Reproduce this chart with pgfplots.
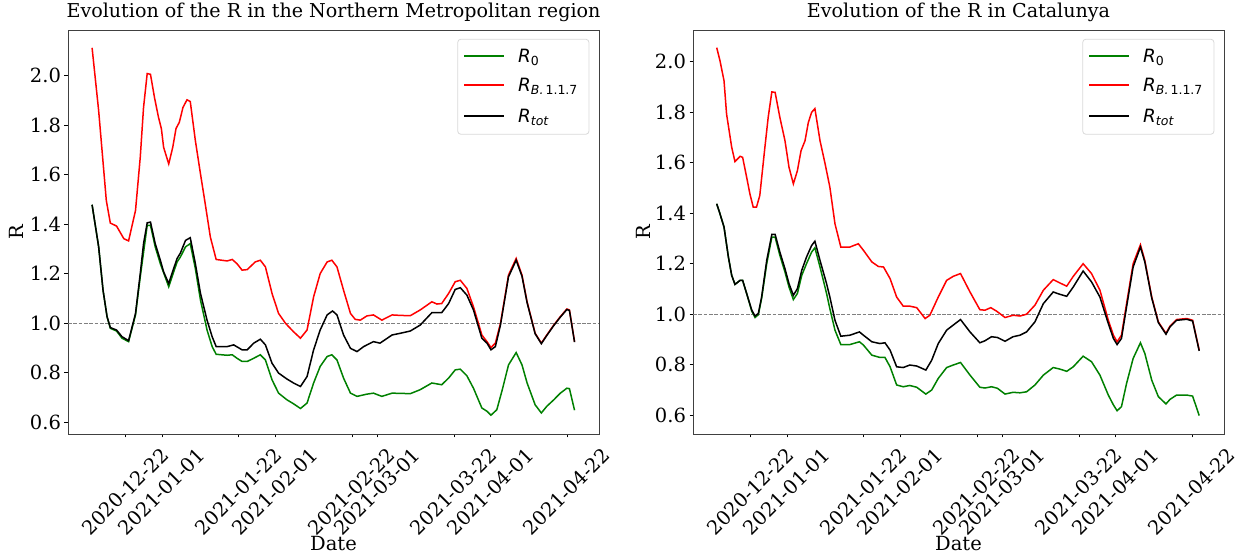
\documentclass[border=0pt]{standalone}
\usepackage{fontspec}
\setmainfont{DejaVu Serif}
\newfontfamily\dvs{DejaVu Sans}
\usepackage{pgfplots}
\pgfplotsset{compat=1.18}
\definecolor{mplgreen}{HTML}{008000}
\definecolor{mplred}{HTML}{FF0000}
\definecolor{legedge}{HTML}{D9D9D9}
\newcommand{\subf}[1]{\raisebox{-0.17em}{\fontsize{12.5}{14}\selectfont #1}}
\pgfplotsset{
  myaxis/.style={
    scale only axis, width=531pt, height=404pt,
    xmin=-15.8, xmax=129.7,
    xtick={0,10,31,41,62,69,90,100,121},
    xticklabels={2020-12-22,2021-01-01,2021-01-22,2021-02-01,2021-02-22,2021-03-01,2021-03-22,2021-04-01,2021-04-22},
    ytick={0.6,0.8,1.0,1.2,1.4,1.6,1.8,2.0},
    yticklabels={0.6,0.8,1.0,1.2,1.4,1.6,1.8,2.0},
    tick align=outside, xtick pos=left, ytick pos=left,
    major tick length=3.5pt,
    every tick/.style={black, line width=0.8pt},
    axis line style={black!75, line width=0.9pt},
    tick label style={font=\fontsize{19.5}{23}\selectfont},
    xticklabel style={xshift=34pt, yshift=-4pt, rotate=45, anchor=north east},
    title style={font=\fontsize{19.1}{23}\selectfont, at={(0.5,1)}, anchor=base, yshift=6pt},
    xlabel style={font=\fontsize{19.5}{23}\selectfont, at={(axis description cs:0.5,-0.27)}, anchor=center},
    ylabel style={font=\fontsize{19.5}{23}\selectfont, at={(axis description cs:-0.097,0.5)}, anchor=center, rotate=0},
    xlabel={Date}, ylabel={R},
  },
  gline/.style={mplgreen, line width=1.5pt},
  rline/.style={mplred, line width=1.5pt},
  kline/.style={black, line width=1.5pt},
  hline/.style={gray, line width=1pt, dash pattern=on 3.7pt off 1.6pt},
}
\newcommand{\mylegend}{%
  \draw[legedge, line width=0.8pt, fill=white, rounded corners=3pt] (axis description cs:0.734,0.977) rectangle (axis description cs:0.981,0.742);
  \draw[mplgreen, line width=1.6pt] (axis description cs:0.7458,0.93564) -- (axis description cs:0.8211,0.93564);
  \draw[mplred, line width=1.6pt] (axis description cs:0.7458,0.86386) -- (axis description cs:0.8211,0.86386);
  \draw[black, line width=1.6pt] (axis description cs:0.7458,0.78713) -- (axis description cs:0.8211,0.78713);
  \node[font=\dvs\fontsize{18.3}{21}\selectfont, anchor=base west, inner sep=0pt] at (axis description cs:0.8475,0.9190) {{\itshape R}\subf{0}};
  \node[font=\dvs\fontsize{18.3}{21}\selectfont, anchor=base west, inner sep=0pt] at (axis description cs:0.8475,0.8473) {{\itshape R}\subf{\itshape B.\,\upshape 1.1.7}};
  \node[font=\dvs\fontsize{18.3}{21}\selectfont, anchor=base west, inner sep=0pt] at (axis description cs:0.8475,0.7705) {{\itshape R}\subf{\itshape tot}};
}
\begin{document}
\begin{tikzpicture}
\useasboundingbox (0,0) rectangle (1239pt,553pt);
\begin{axis}[myaxis, at={(68pt,119pt)}, anchor=south west, ymin=0.553, ymax=2.185,
  title={Evolution of the R in the Northern Metropolitan region}]
\addplot[hline] coordinates {(-15.8,1) (129.7,1)};
\addplot[gline] coordinates {
(-9.2,1.479) (-7.4,1.309) (-6.2,1.134) (-5.1,1.027) (-4.2,0.980) (-2.5,0.969) (-1.0,0.940) (0.8,0.926)
(2.7,1.034) (4.0,1.188) (5.9,1.396) (6.8,1.396) (8.1,1.309) (9.5,1.241) (11.8,1.148) (13.0,1.201)
(14.1,1.248) (15.0,1.268) (16.4,1.309) (17.7,1.322) (19.1,1.221) (20.5,1.094) (22.3,0.973) (23.7,0.906)
(24.8,0.875) (27.8,0.871) (29.2,0.873) (30.5,0.859) (31.9,0.846) (33.3,0.846) (35.1,0.859) (36.9,0.873)
(38.3,0.852) (40.1,0.772) (41.9,0.718) (44.2,0.691) (46.0,0.675) (47.9,0.656) (49.7,0.678) (51.5,0.759)
(53.3,0.826) (55.2,0.866) (56.5,0.873) (57.9,0.852) (59.7,0.779) (61.6,0.718) (63.4,0.705) (66.1,0.714)
(67.9,0.718) (70.2,0.705) (73.0,0.718) (78.0,0.716) (80.7,0.732) (83.9,0.759) (86.6,0.752) (88.5,0.779)
(90.3,0.812) (91.7,0.815) (93.5,0.788) (95.3,0.738) (97.6,0.658) (99.0,0.645) (100.1,0.629) (101.7,0.651)
(103.2,0.732) (104.9,0.832) (107.0,0.882) (108.6,0.832) (110.0,0.759) (112.2,0.671) (113.9,0.638) (115.4,0.665)
(117.3,0.691) (119.1,0.718) (120.9,0.738) (121.6,0.736) (123.0,0.649)};
\addplot[rline] coordinates {
(-9.2,2.113) (-7.4,1.859) (-6.0,1.617) (-5.3,1.496) (-4.2,1.405) (-2.5,1.393) (-0.5,1.342) (0.8,1.333)
(2.7,1.456) (4.0,1.671) (4.9,1.872) (5.9,2.009) (6.8,2.006) (7.9,1.912) (9.0,1.832) (9.8,1.785)
(10.4,1.711) (11.8,1.644) (12.9,1.711) (13.8,1.787) (14.7,1.812) (15.7,1.872) (16.8,1.903) (17.7,1.896)
(19.1,1.738) (20.5,1.604) (21.8,1.483) (23.2,1.349) (24.8,1.258) (27.8,1.252) (29.2,1.258) (30.5,1.241)
(31.9,1.215) (33.3,1.217) (35.5,1.248) (36.9,1.255) (38.3,1.228) (40.1,1.121) (41.9,1.040) (43.8,1.000)
(46.0,0.966) (47.9,0.940) (49.7,0.973) (51.5,1.107) (53.3,1.201) (55.2,1.248) (56.5,1.255) (57.9,1.228)
(59.7,1.134) (61.6,1.040) (62.9,1.016) (64.3,1.013) (66.1,1.030) (67.9,1.034) (70.2,1.013) (73.0,1.034)
(75.3,1.032) (78.0,1.031) (80.7,1.054) (83.9,1.087) (85.3,1.078) (86.6,1.080) (88.5,1.121) (90.3,1.168)
(91.7,1.174) (93.5,1.141) (95.3,1.067) (97.6,0.953) (99.0,0.926) (100.1,0.902) (101.3,0.920) (102.7,1.000)
(104.9,1.195) (107.0,1.262) (108.6,1.195) (110.0,1.087) (112.2,0.960) (113.9,0.920) (115.4,0.953) (117.3,0.993)
(119.1,1.027) (120.9,1.058) (121.6,1.054) (123.0,0.926)};
\addplot[kline] coordinates {
(-9.2,1.479) (-7.4,1.309) (-6.2,1.134) (-5.1,1.027) (-4.2,0.983) (-2.5,0.973) (-1.0,0.946) (0.8,0.930)
(2.7,1.040) (4.0,1.201) (4.9,1.322) (5.9,1.406) (6.8,1.409) (8.1,1.322) (9.5,1.255) (10.4,1.208)
(11.8,1.161) (13.0,1.215) (14.1,1.262) (15.0,1.284) (16.4,1.335) (17.7,1.346) (19.1,1.241) (20.5,1.121)
(22.3,1.013) (23.7,0.946) (24.8,0.906) (27.8,0.906) (29.6,0.913) (31.9,0.893) (33.3,0.893) (35.1,0.920)
(36.9,0.936) (38.3,0.913) (40.1,0.839) (41.9,0.799) (44.2,0.775) (46.0,0.759) (47.9,0.745) (49.7,0.785)
(51.5,0.893) (53.3,0.973) (55.2,1.034) (56.7,1.050) (57.9,1.034) (59.7,0.953) (61.6,0.899) (63.4,0.886)
(65.2,0.906) (67.9,0.926) (69.7,0.920) (73.0,0.953) (75.3,0.960) (78.0,0.969) (80.7,0.993) (83.9,1.043)
(86.6,1.043) (88.5,1.080) (90.3,1.137) (91.7,1.144) (93.5,1.114) (95.3,1.054) (97.6,0.940) (99.0,0.920)
(100.1,0.893) (101.3,0.906) (102.7,0.993) (104.9,1.188) (107.0,1.255) (108.6,1.190) (110.0,1.083) (112.2,0.958)
(113.9,0.918) (115.4,0.951) (117.3,0.991) (119.1,1.025) (120.9,1.056) (121.6,1.052) (123.0,0.924)};
\mylegend
\end{axis}
\begin{axis}[myaxis, at={(693pt,119pt)}, anchor=south west, ymin=0.526, ymax=2.125,
  ylabel style={at={(axis description cs:-0.094,0.5)}},
  title={Evolution of the R in Catalunya}]
\addplot[hline] coordinates {(-15.8,1) (129.7,1)};
\addplot[gline] coordinates {
(-9.3,1.437) (-8.4,1.397) (-7.3,1.345) (-6.1,1.226) (-5.2,1.154) (-4.3,1.118) (-2.9,1.134) (-2.2,1.134)
(-1.1,1.082) (0.3,1.012) (1.2,0.987) (2.1,0.998) (3.0,1.062) (4.4,1.200) (5.8,1.305) (6.7,1.305)
(8.0,1.233) (9.4,1.167) (10.5,1.108) (11.7,1.058) (12.8,1.082) (14.0,1.154) (15.3,1.200) (16.7,1.246)
(17.6,1.263) (19.0,1.187) (20.8,1.082) (21.7,1.022) (23.1,0.937) (24.7,0.880) (27.2,0.880) (29.8,0.891)
(30.9,0.878) (33.2,0.838) (35.4,0.829) (36.8,0.829) (38.2,0.792) (40.0,0.720) (41.8,0.713) (43.6,0.718)
(45.5,0.711) (48.0,0.684) (49.6,0.700) (51.4,0.746) (53.7,0.789) (55.5,0.799) (57.5,0.809) (60.1,0.759)
(62.8,0.711) (64.2,0.708) (66.0,0.713) (67.6,0.707) (69.7,0.684) (71.9,0.691) (73.8,0.689) (75.6,0.693)
(77.9,0.720) (80.2,0.759) (82.9,0.789) (84.7,0.783) (86.6,0.774) (88.4,0.792) (91.1,0.834) (93.4,0.812)
(95.7,0.759) (98.0,0.680) (99.4,0.641) (100.4,0.618) (101.6,0.634) (103.0,0.726) (104.8,0.825) (106.8,0.887)
(108.0,0.845) (109.9,0.739) (111.7,0.674) (113.8,0.645) (114.9,0.663) (116.7,0.680) (119.5,0.680) (121.1,0.676)
(122.9,0.599)};
\addplot[rline] coordinates {
(-9.3,2.055) (-8.4,2.003) (-7.3,1.924) (-6.6,1.792) (-5.2,1.661) (-4.3,1.604) (-2.9,1.625) (-2.2,1.621)
(-1.1,1.542) (-0.2,1.476) (0.7,1.424) (1.6,1.424) (2.5,1.470) (3.9,1.661) (4.8,1.779) (5.8,1.880)
(6.7,1.878) (8.0,1.779) (9.4,1.687) (10.5,1.582) (11.7,1.516) (12.8,1.568) (13.8,1.647) (14.9,1.687)
(15.8,1.759) (16.7,1.799) (17.6,1.814) (19.0,1.687) (20.4,1.595) (21.7,1.503) (23.1,1.358) (24.7,1.266)
(27.2,1.266) (29.5,1.279) (30.9,1.253) (33.2,1.207) (35.0,1.189) (36.4,1.187) (38.2,1.141) (40.0,1.068)
(41.8,1.032) (43.6,1.032) (45.5,1.026) (47.8,0.983) (49.1,0.996) (51.4,1.068) (53.7,1.134) (55.5,1.150)
(57.5,1.161) (60.1,1.088) (62.8,1.018) (64.2,1.016) (65.8,1.026) (67.4,1.012) (69.7,0.987) (71.9,0.996)
(73.8,0.993) (75.6,1.000) (77.9,1.036) (80.2,1.095) (82.9,1.137) (84.7,1.124) (86.6,1.111) (88.4,1.150)
(91.1,1.200) (93.4,1.161) (95.7,1.095) (98.0,0.976) (99.4,0.917) (100.4,0.891) (101.6,0.917) (103.0,1.042)
(104.8,1.200) (106.8,1.275) (108.0,1.213) (109.9,1.068) (111.7,0.970) (113.8,0.924) (114.9,0.953) (116.7,0.979)
(119.5,0.983) (121.1,0.976) (122.9,0.858)};
\addplot[kline] coordinates {
(-9.3,1.437) (-8.4,1.397) (-7.3,1.345) (-6.1,1.226) (-5.2,1.154) (-4.3,1.118) (-2.9,1.134) (-2.2,1.134)
(-1.1,1.082) (0.3,1.016) (1.2,0.993) (2.1,1.003) (3.0,1.068) (4.4,1.213) (5.8,1.316) (6.7,1.316)
(8.0,1.246) (9.4,1.180) (10.5,1.121) (11.7,1.075) (12.8,1.101) (14.0,1.174) (15.3,1.226) (16.7,1.272)
(17.6,1.289) (19.0,1.213) (20.8,1.121) (21.7,1.068) (23.1,0.976) (24.7,0.913) (27.2,0.917) (29.8,0.930)
(30.9,0.917) (33.2,0.891) (35.4,0.884) (36.8,0.887) (38.2,0.858) (40.0,0.792) (41.8,0.789) (43.6,0.799)
(45.5,0.795) (48.0,0.779) (49.6,0.818) (51.4,0.884) (53.7,0.937) (55.5,0.957) (57.5,0.979) (60.1,0.930)
(62.8,0.887) (64.2,0.895) (66.0,0.911) (67.6,0.908) (69.7,0.893) (71.9,0.911) (73.8,0.917) (75.6,0.930)
(77.9,0.970) (80.2,1.042) (82.9,1.088) (84.7,1.079) (86.6,1.071) (88.4,1.108) (91.1,1.171) (93.4,1.128)
(95.7,1.068) (98.0,0.963) (99.4,0.904) (100.4,0.880) (101.6,0.904) (103.0,1.029) (104.8,1.187) (106.8,1.266)
(108.0,1.207) (109.9,1.064) (111.7,0.967) (113.8,0.921) (114.9,0.950) (116.7,0.976) (119.5,0.980) (121.1,0.973)
(122.9,0.855)};
\mylegend
\end{axis}
\end{tikzpicture}
\end{document}
